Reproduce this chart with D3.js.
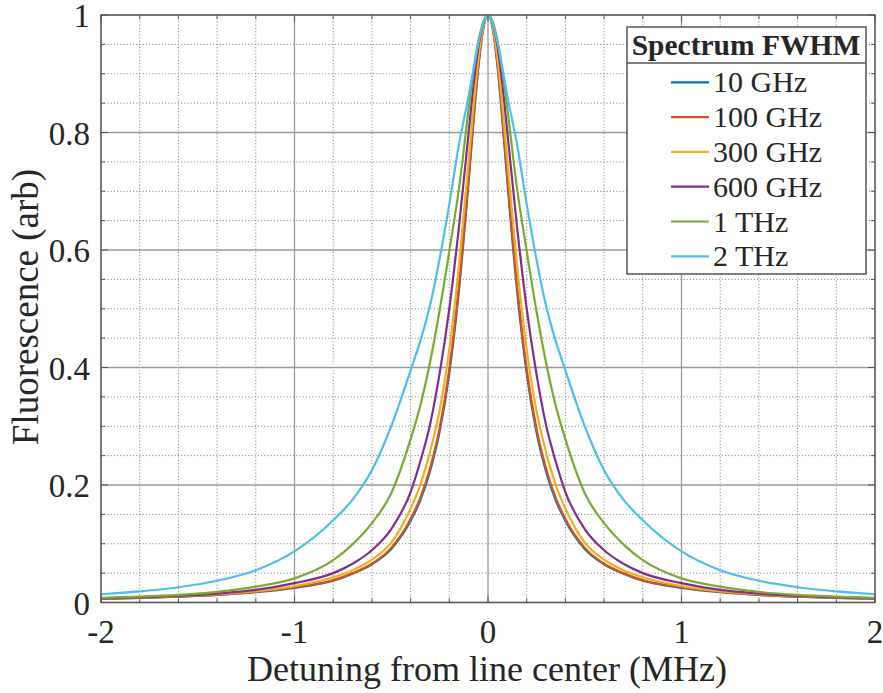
<!DOCTYPE html>
<head>
    <meta charset="utf-8">
    <script src="https://d3js.org/d3.v7.min.js"></script>
    <style>
        *{
            margin:0;
            padding:0;
        }
        body{
            background: #fff;
        }
        text{
            font-family: 'Liberation Serif', 'Times New Roman', serif;
            fill: #262626;
        }
    </style>
</head>

<body>
<svg id="chart"></svg>

<script>

    //detuning (MHz)
    let detuning = [-2,-1.8,-1.6,-1.4,-1.2,-1,-0.8,-0.7,-0.6,-0.5,-0.4,-0.35,-0.3,-0.25,-0.2,-0.15,-0.1,-0.075,-0.05,-0.025,0,
        0.025,0.05,0.075,0.1,0.15,0.2,0.25,0.3,0.35,0.4,0.5,0.6,0.7,0.8,1,1.2,1.4,1.6,1.8,2];

    //legend labels
    let names = ["10 GHz", "100 GHz", "300 GHz", "600 GHz", "1 THz", "2 THz"];

    //fluorescence values
    let ghz10 = [0.0063,0.0078,0.0098,0.0128,0.0175,0.025,0.037,0.049,0.065,0.091,0.139,0.174,0.223,0.291,0.39,0.532,0.717,0.818,0.91,0.976,1,
        0.976,0.91,0.818,0.717,0.532,0.39,0.291,0.223,0.174,0.139,0.091,0.065,0.049,0.037,0.025,0.0175,0.0128,0.0098,0.0078,0.0063];
    let ghz100 = [0.0065,0.008,0.01,0.013,0.018,0.026,0.038,0.05,0.066,0.093,0.142,0.178,0.228,0.297,0.397,0.54,0.724,0.823,0.913,0.977,1,
        0.977,0.913,0.823,0.724,0.54,0.397,0.297,0.228,0.178,0.142,0.093,0.066,0.05,0.038,0.026,0.018,0.013,0.01,0.008,0.0065];
    let ghz300 = [0.0069,0.0086,0.0108,0.0143,0.0195,0.028,0.043,0.055,0.073,0.102,0.16,0.2,0.256,0.327,0.431,0.574,0.752,0.843,0.924,0.98,1,
        0.98,0.924,0.843,0.752,0.574,0.431,0.327,0.256,0.2,0.16,0.102,0.073,0.055,0.043,0.028,0.0195,0.0143,0.0108,0.0086,0.0069];
    let ghz600 = [0.007,0.0088,0.0112,0.0152,0.0215,0.033,0.05,0.066,0.089,0.125,0.188,0.24,0.302,0.39,0.5,0.64,0.8,0.88,0.945,0.985,1,
        0.985,0.945,0.88,0.8,0.64,0.5,0.39,0.302,0.24,0.188,0.125,0.089,0.066,0.05,0.033,0.0215,0.0152,0.0112,0.0088,0.007];
    let thz1 = [0.008,0.01,0.013,0.018,0.027,0.041,0.072,0.099,0.135,0.186,0.278,0.335,0.408,0.497,0.598,0.705,0.84,0.905,0.955,0.988,1,
        0.988,0.955,0.905,0.84,0.705,0.598,0.497,0.408,0.335,0.278,0.186,0.135,0.099,0.072,0.041,0.027,0.018,0.013,0.01,0.008];
    let thz2 = [0.014,0.019,0.026,0.037,0.055,0.087,0.14,0.175,0.225,0.3,0.395,0.445,0.505,0.585,0.678,0.78,0.862,0.908,0.952,0.985,1,
        0.985,0.952,0.908,0.862,0.78,0.678,0.585,0.505,0.445,0.395,0.3,0.225,0.175,0.14,0.087,0.055,0.037,0.026,0.019,0.014];

    //tick labels
    let xTicks = [-2, -1, 0, 1, 2];
    let yTicks = [0, 0.2, 0.4, 0.6, 0.8, 1];
    let xMinor = [-1.8,-1.6,-1.4,-1.2,-0.8,-0.6,-0.4,-0.2,0.2,0.4,0.6,0.8,1.2,1.4,1.6,1.8];
    let yMinor = [0.05,0.1,0.15,0.25,0.3,0.35,0.45,0.5,0.55,0.65,0.7,0.75,0.85,0.9,0.95];

    let series = [ghz10, ghz100, ghz300, ghz600, thz1, thz2];
    let colors = ["#0072BD", "#D95319", "#EDB120", "#7E2F8E", "#77AC30", "#4DBEEE"];


    //svg
    let width = 883, height = 693;
    let svg = d3.select("#chart")
        .attr("width", width)
        .attr("height", height);

    let x0 = 101, x1 = 875, y0 = 15, y1 = 602.5;

    let x = d3.scaleLinear().domain([-2, 2]).range([x0, x1]);
    let y = d3.scaleLinear().domain([0, 1]).range([y1, y0]);


    //minor grid
    svg.append("g")
        .selectAll("line")
        .data(xMinor)
        .join("line")
        .attr("x1", d => x(d)).attr("x2", d => x(d))
        .attr("y1", y0).attr("y2", y1)
        .attr("stroke", "#8a8a8a")
        .attr("stroke-width", 1)
        .attr("stroke-dasharray", "1.2,2");

    svg.append("g")
        .selectAll("line")
        .data(yMinor)
        .join("line")
        .attr("x1", x0).attr("x2", x1)
        .attr("y1", d => y(d)).attr("y2", d => y(d))
        .attr("stroke", "#8a8a8a")
        .attr("stroke-width", 1)
        .attr("stroke-dasharray", "1.2,2");


    //major grid
    svg.append("g")
        .selectAll("line")
        .data(xTicks)
        .join("line")
        .attr("x1", d => x(d)).attr("x2", d => x(d))
        .attr("y1", y0).attr("y2", y1)
        .attr("stroke", "#9a9a9a")
        .attr("stroke-width", 1.3);

    svg.append("g")
        .selectAll("line")
        .data(yTicks)
        .join("line")
        .attr("x1", x0).attr("x2", x1)
        .attr("y1", d => y(d)).attr("y2", d => y(d))
        .attr("stroke", "#9a9a9a")
        .attr("stroke-width", 1.3);


    //curves
    svg.append("clipPath")
        .attr("id", "clip")
        .append("rect")
        .attr("x", x0).attr("y", y0 - 2)
        .attr("width", x1 - x0).attr("height", y1 - y0 + 2);

    let line = d3.line()
        .x((d, i) => x(detuning[i]))
        .y(d => y(d))
        .curve(d3.curveMonotoneX);

    svg.append("g")
        .attr("clip-path", "url(#clip)")
        .selectAll("path")
        .data(series)
        .join("path")
        .attr("d", d => line(d))
        .attr("fill", "none")
        .attr("stroke", (d, i) => colors[i])
        .attr("stroke-width", 2.2);


    //axes with inward ticks on all sides
    let axisColor = "#555";
    let axes = svg.append("g");

    axes.append("rect")
        .attr("x", x0).attr("y", y0)
        .attr("width", x1 - x0).attr("height", y1 - y0)
        .attr("fill", "none")
        .attr("stroke", axisColor)
        .attr("stroke-width", 1.3);

    let tick = (xa, xb, ya, yb) => axes.append("line")
        .attr("x1", xa).attr("x2", xb).attr("y1", ya).attr("y2", yb)
        .attr("stroke", axisColor);

    xTicks.forEach(t => { tick(x(t), x(t), y1, y1 - 7); tick(x(t), x(t), y0, y0 + 7); });
    yTicks.forEach(t => { tick(x0, x0 + 7, y(t), y(t)); tick(x1, x1 - 7, y(t), y(t)); });
    xMinor.forEach(t => { tick(x(t), x(t), y1, y1 - 4); tick(x(t), x(t), y0, y0 + 4); });
    yMinor.forEach(t => { tick(x0, x0 + 4, y(t), y(t)); tick(x1, x1 - 4, y(t), y(t)); });


    //tick labels
    svg.append("g")
        .selectAll("text")
        .data(xTicks)
        .join("text")
        .attr("x", d => x(d))
        .attr("y", 643)
        .attr("text-anchor", "middle")
        .attr("font-size", 33)
        .text(d => d);

    svg.append("g")
        .selectAll("text")
        .data(yTicks)
        .join("text")
        .attr("x", 90)
        .attr("y", d => y(d) + 12)
        .attr("text-anchor", "end")
        .attr("font-size", 33)
        .text(d => d);


    //axis titles
    svg.append("text")
        .attr("x", 487)
        .attr("y", 681)
        .attr("text-anchor", "middle")
        .attr("font-size", 36)
        .text("Detuning from line center (MHz)");

    svg.append("text")
        .attr("transform", "translate(38,307) rotate(-90)")
        .attr("text-anchor", "middle")
        .attr("font-size", 37)
        .text("Fluorescence (arb)");


    //legend
    let legend = svg.append("g");

    legend.append("rect")
        .attr("x", 627).attr("y", 27)
        .attr("width", 239).attr("height", 247)
        .attr("fill", "#fff")
        .attr("stroke", "#555")
        .attr("stroke-width", 1.5);

    legend.append("line")
        .attr("x1", 627).attr("x2", 866)
        .attr("y1", 63).attr("y2", 63)
        .attr("stroke", "#555")
        .attr("stroke-width", 1.3);

    legend.append("text")
        .attr("x", 746)
        .attr("y", 55)
        .attr("text-anchor", "middle")
        .attr("font-size", 29.5)
        .attr("font-weight", "bold")
        .attr("fill", "#000")
        .text("Spectrum FWHM");

    let rows = legend.selectAll("g.row")
        .data(names)
        .join("g")
        .attr("class", "row")
        .attr("transform", (d, i) => `translate(0,${82.3 + i * 34.8})`);

    rows.append("line")
        .attr("x1", 671).attr("x2", 709)
        .attr("stroke", (d, i) => colors[i])
        .attr("stroke-width", 2.2);

    rows.append("text")
        .attr("x", 713)
        .attr("y", 10)
        .attr("font-size", 30)
        .attr("fill", "#000")
        .text(d => d);

</script>
</body>
